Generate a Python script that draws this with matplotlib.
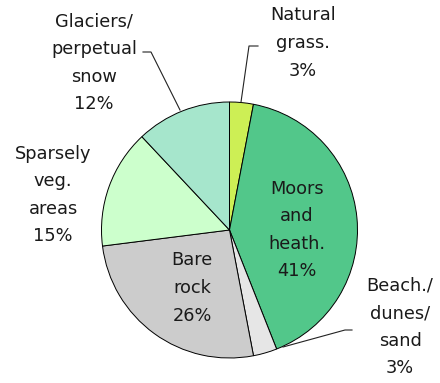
import matplotlib.pyplot as plt

# Land cover shares, clockwise from the top
labels = ["Natural\ngrass.", "Moors\nand\nheath.", "Beach./\ndunes/\nsand",
          "Bare\nrock", "Sparsely\nveg.\nareas", "Glaciers/\nperpetual\nsnow"]
shares = [3, 41, 3, 26, 15, 12]
colors = ["#cdef55", "#52c78a", "#e6e6e6", "#cccccc", "#ccffcc", "#a6e6cc"]

# label block centres (pixel space, origin bottom-left)
label_pos = [(303, 340), (297, 153), (400, 56), (192, 95), (53, 188), (94, 320)]

W, H = 440, 383
fig = plt.figure(figsize=(W / 100, H / 100), dpi=100)
ax = fig.add_axes([0, 0, 1, 1])

cx, cy, r = 229.5, H - 230, 128
ax.pie(shares, colors=colors, startangle=90, counterclock=False,
       center=(cx, cy), radius=r,
       wedgeprops=dict(edgecolor="black", linewidth=0.7))
ax.set_xlim(0, W)
ax.set_ylim(0, H)
ax.set_aspect("equal")
ax.axis("off")

for lab, val, (x, y) in zip(labels, shares, label_pos):
    ax.text(x, y, f"{lab}\n{val}%", ha="center", va="center",
            fontsize=12.8, color="#1a1a1a", linespacing=1.69,
            family="DejaVu Sans")

# leader lines for the outside labels
leaders = [
    [(258, H - 46), (249, H - 46), (241, H - 102)],
    [(143, H - 52), (151, H - 52), (180, H - 110)],
    [(352, H - 330), (345, H - 330), (283, H - 347)],
]
for pts in leaders:
    xs, ys = zip(*pts)
    ax.plot(xs, ys, color="#222222", linewidth=0.8)

fig.savefig("out.png", dpi=100)
